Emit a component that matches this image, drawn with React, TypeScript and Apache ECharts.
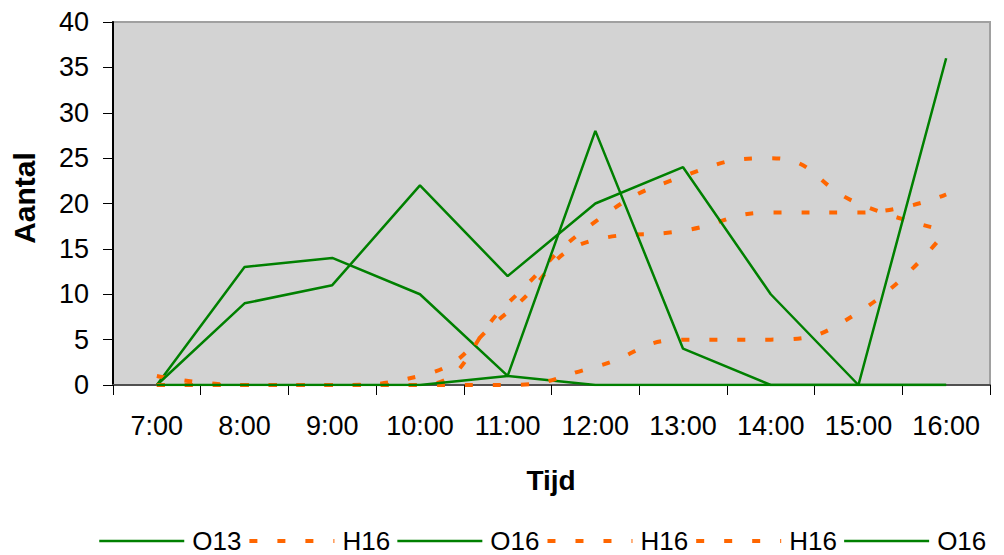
import React, { useEffect, useRef } from "react";
import * as echarts from "echarts";

const categories = ["7:00", "8:00", "9:00", "10:00", "11:00", "12:00", "13:00", "14:00", "15:00", "16:00"];

const seriesNames = ["O13#1", "H16#1", "O16#1", "H16#2", "H16#3", "O16#2"];

const o13 = [0, 13, 14, 10, 1, 0, 0, 0, 0, 0];
const h16a = [1, 0, 0, 1, 8, 16, 17, 19, 19, 21];
const o16a = [0, 9, 11, 22, 12, 20, 24, 10, 0, 0];
const h16b = [0, 0, 0, 0, 9, 18, 23, 25, 20, 17];
const h16c = [0, 0, 0, 0, 0, 2, 5, 5, 8, 17];
const o16b = [0, 0, 0, 0, 1, 28, 4, 0, 0, 36];

const yTicks = { min: 0, max: 40, interval: 5 };
const xTitle = "Tijd";
const yTitle = "Aantal";

const FONT = "'Liberation Sans', Arial, sans-serif";
const GREEN = "#008000";
const ORANGE = "#FF6600";

export default function App() {
  const ref = useRef<HTMLDivElement>(null);
  useEffect(() => {
    if (!ref.current) return;
    const chart = echarts.init(ref.current, undefined, { renderer: "svg" });
    const green = (name: string, data: number[]) => ({
      name,
      type: "line",
      data,
      symbol: "none",
      lineStyle: { color: GREEN, width: 2.5 },
      itemStyle: { color: GREEN },
    });
    const orange = (name: string, data: number[]) => ({
      name,
      type: "line",
      data,
      symbol: "none",
      smooth: 0.5,
      lineStyle: { color: ORANGE, width: 4, type: [8, 20], cap: "butt" },
      itemStyle: { color: ORANGE },
    });
    chart.setOption({
      animation: false,
      backgroundColor: "#ffffff",
      grid: {
        left: 113,
        right: 14,
        top: 22,
        bottom: 170,
        show: true,
        backgroundColor: "#d3d3d3",
        borderColor: "#a0a0a0",
        borderWidth: 2,
      },
      graphic: [
        {
          type: "text",
          x: 551,
          y: 480,
          style: {
            text: xTitle,
            font: `bold 28px ${FONT}`,
            fill: "#000",
            align: "center",
            verticalAlign: "middle",
          },
        },
        {
          type: "text",
          x: 24,
          y: 198,
          rotation: Math.PI / 2,
          style: {
            text: yTitle,
            font: `bold 30px ${FONT}`,
            fill: "#000",
            align: "center",
            verticalAlign: "middle",
          },
        },
      ],
      legend: {
        left: 98,
        top: 528,
        width: 1000,
        padding: 0,
        itemWidth: 85,
        itemHeight: 14,
        itemGap: 6,
        formatter: (n: string) => n.split("#")[0],
        textStyle: { fontFamily: FONT, fontSize: 26, lineHeight: 26, color: "#000", padding: [0, 0, 0, 3] },
        lineStyle: { width: "inherit" },
        itemStyle: { opacity: 0, borderWidth: 0 },
      },
      xAxis: {
        type: "category",
        data: categories,
        boundaryGap: true,
        axisLine: { show: true, lineStyle: { color: "#505050", width: 2 } },
        axisTick: { show: true, alignWithLabel: false, interval: 0, length: 10, lineStyle: { color: "#000", width: 1 } },
        axisLabel: { fontFamily: FONT, fontSize: 27, color: "#000", margin: 27, interval: 0 },
        splitLine: { show: false },
      },
      yAxis: {
        type: "value",
        min: yTicks.min,
        max: yTicks.max,
        interval: yTicks.interval,
        axisLine: { show: true, lineStyle: { color: "#000", width: 2 } },
        axisTick: { show: true, length: 10, lineStyle: { color: "#000", width: 1 } },
        axisLabel: { fontFamily: FONT, fontSize: 27, color: "#000", margin: 24 },
        splitLine: { show: false },
      },
      series: [
        green(seriesNames[0], o13),
        orange(seriesNames[1], h16a),
        green(seriesNames[2], o16a),
        orange(seriesNames[3], h16b),
        orange(seriesNames[4], h16c),
        green(seriesNames[5], o16b),
      ],
    });
    return () => chart.dispose();
  }, []);
  return (
    <div
      ref={ref}
      style={{ position: "fixed", left: 0, top: 0, width: 1004, height: 555, background: "#fff" }}
    />
  );
}
